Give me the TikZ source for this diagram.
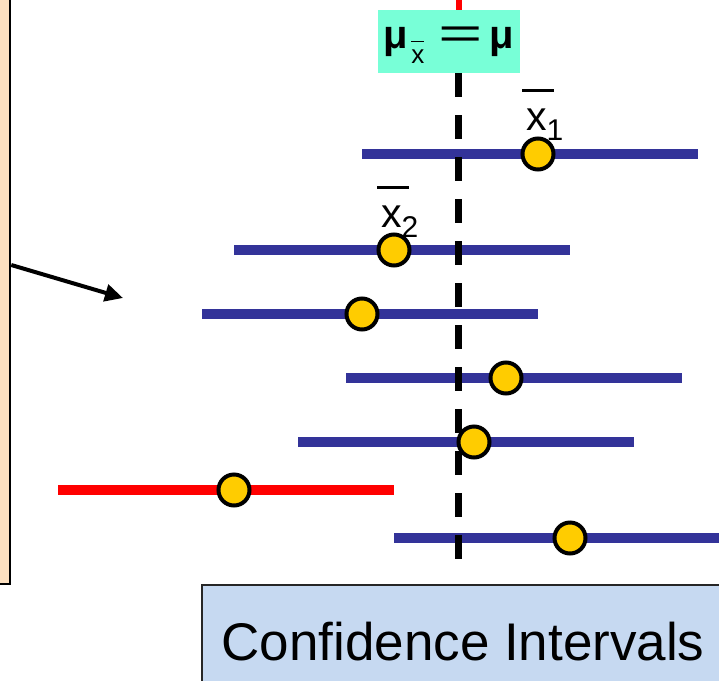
\documentclass[tikz,border=0pt]{standalone}
\usepackage{fontspec}
\setmainfont{Liberation Sans}
\usetikzlibrary{arrows.meta}
\definecolor{panelfill}{RGB}{253,224,192}
\definecolor{meanfill}{RGB}{120,255,215}
\definecolor{titlefill}{RGB}{198,217,241}
\definecolor{ciblue}{RGB}{51,51,153}
\definecolor{cired}{RGB}{255,0,0}
\definecolor{dotfill}{RGB}{255,204,0}
\tikzset{
  panel/.style={draw=black, line width=2.5pt, fill=panelfill, inner sep=0pt},
  meanbox/.style={fill=meanfill, inner sep=0pt, minimum width=142pt, minimum height=63pt,
    text height=30pt, text depth=17pt},
  titlebox/.style={draw=black!85, line width=1.5pt, fill=titlefill, inner sep=0pt,
    minimum width=522pt, minimum height=112pt, text height=42pt, text depth=4pt,
    font=\fontsize{53}{60}\selectfont},
  cibar/.style={line width=10pt, color=ciblue},
  missbar/.style={line width=10pt, color=cired},
  meanaxis/.style={line width=7pt, dash pattern=on 24pt off 18pt},
  dot/.style={circle, draw=black, line width=4pt, fill=dotfill, minimum size=31pt, inner sep=0pt},
  xlabel/.style={anchor=base west, inner sep=0pt, font=\fontsize{41}{44}\selectfont},
  pointer/.style={line width=4pt, -{Triangle[length=18pt,width=17pt]}}
}
% sample mean with an overbar and a lowered index
\newcommand{\xbarsub}[1]{\makebox[0pt][l]{\hspace{-4pt}\raisebox{38pt}{\rule{32pt}{3.5pt}}}x\raisebox{-10pt}{\fontsize{30}{30}\selectfont #1}}
\begin{document}
\begin{tikzpicture}[x=1pt, y=-1pt]
\useasboundingbox (0,0) rectangle (719,680);
\clip (0,0) rectangle (719,680);

% side panel and its pointer
\node[panel, minimum width=40pt, minimum height=638pt] (panel) at (-10,265) {};
\coordinate (pointtip) at (123,298);
\draw[pointer] (panel.east) -- (pointtip);

% population mean
\coordinate (axtop) at (458.5,0);
\coordinate (axbot) at (458.5,567);
\node[meanbox] (mean) at (449,41.5) {\fontsize{40}{44}\selectfont{\bfseries μ}\hspace{3pt}\raisebox{-15pt}{\fontsize{26}{26}\selectfont\makebox[0pt][l]{\raisebox{21pt}{\rule{13pt}{1.5pt}}}x}\hspace{14pt}\scalebox{1.9}[1.1]{=}\hspace{7pt}{\bfseries μ}};
\draw[cired, line width=6pt] (axtop) -- (axtop |- mean.north);

% confidence intervals
\draw[cibar] (362,154) -- (698,154);
\draw[cibar] (234,250) -- (570,250);
\draw[cibar] (202,314) -- (538,314);
\draw[cibar] (346,378) -- (682,378);
\draw[cibar] (298,442) -- (634,442);
\draw[missbar] (58,490) -- (394,490);
\draw[cibar] (394,538) -- (730,538);

\draw[meanaxis] (axtop |- mean.south) -- (axbot);

% sample means
\node[dot] (m1) at (538,154) {};
\node[dot] (m2) at (394,250) {};
\node[dot] (m3) at (362,314) {};
\node[dot] (m4) at (506,378) {};
\node[dot] (m5) at (474,442) {};
\node[dot] (m6) at (234,490) {};
\node[dot] (m7) at (570,538) {};

\node[xlabel] (lab1) at (526,130) {\xbarsub{1}};
\node[xlabel] (lab2) at (381,227) {\xbarsub{2}};

% title
\node[titlebox] (title) at (463,641) {Confidence Intervals};
\end{tikzpicture}
\end{document}
